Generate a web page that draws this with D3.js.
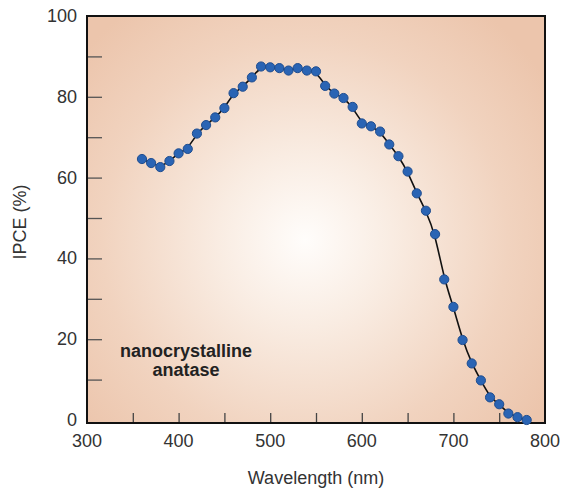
<!DOCTYPE html>
<html>
<head>
<meta charset="utf-8">
<script src="https://cdn.jsdelivr.net/npm/d3@7"></script>
<style>
  body { margin: 0; background: #fff; }
  svg { display: block; font-family: "Liberation Sans", Arial, sans-serif; }
</style>
</head>
<body>
<div id="chart"></div>
<script>
// measured points
const wavelength = [360, 370, 380, 390, 400, 410, 420, 430, 440, 450, 460, 470, 480, 490,
  500, 510, 520, 530, 540, 550, 560, 570, 580, 590, 600, 610, 620, 630, 640, 650,
  660, 670, 680, 690, 700, 710, 720, 730, 740, 750, 760, 770, 780];
const ipce = [64.6, 63.6, 62.6, 64.1, 66.0, 67.1, 70.9, 73.0, 74.9, 77.2, 80.9, 82.5, 84.8, 87.5,
  87.3, 87.1, 86.5, 87.1, 86.5, 86.3, 82.7, 80.8, 79.7, 77.5, 73.4, 72.7, 71.4, 68.2, 65.3, 61.5,
  56.1, 51.8, 46.0, 34.8, 28.0, 19.8, 14.0, 9.8, 5.6, 3.9, 1.6, 0.7, 0.0];

const xTickLabels = [300, 400, 500, 600, 700, 800];
const xTicksAll = [350, 400, 450, 500, 550, 600, 650, 700, 750];
const yTickLabels = [0, 20, 40, 60, 80, 100];
const yTicksAll = [10, 20, 30, 40, 50, 60, 70, 80, 90];

const W = 564, H = 488;
const mLeft = 87, mRight = 545, mTop = 16, mBottom = 420;

const svg = d3.select("#chart").append("svg").attr("width", W).attr("height", H);

const x = d3.scaleLinear().domain([300, 800]).range([mLeft, mRight]);
const y = d3.scaleLinear().domain([0, 100]).range([mBottom, mTop]);

// background glow
const defs = svg.append("defs");
const grad = defs.append("radialGradient").attr("id", "glow")
  .attr("gradientUnits", "userSpaceOnUse")
  .attr("cx", 305).attr("cy", 240).attr("r", 290);
grad.append("stop").attr("offset", "0%").attr("stop-color", "#fffdfb");
grad.append("stop").attr("offset", "30%").attr("stop-color", "#f9ece2");
grad.append("stop").attr("offset", "70%").attr("stop-color", "#f1d3bf");
grad.append("stop").attr("offset", "100%").attr("stop-color", "#ecc5ac");

svg.append("rect").attr("x", mLeft).attr("y", mTop)
  .attr("width", mRight - mLeft).attr("height", mBottom + 3 - mTop)
  .attr("fill", "url(#glow)");

// inner ticks
const xAxis = d3.axisTop(x).tickValues(xTicksAll).tickSize(10).tickFormat("");
svg.append("g").attr("transform", `translate(0,${mBottom + 3})`).call(xAxis)
  .call(g => g.select(".domain").remove())
  .call(g => g.selectAll("line").attr("stroke", "#444").attr("stroke-width", 1.3));

const yAxis = d3.axisRight(y).tickValues(yTicksAll).tickSize(15).tickFormat("");
svg.append("g").attr("transform", `translate(${mLeft},0)`).call(yAxis)
  .call(g => g.select(".domain").remove())
  .call(g => g.selectAll("line").attr("stroke", "#555").attr("stroke-width", 1.3));

// frame
svg.append("rect").attr("x", mLeft).attr("y", mTop)
  .attr("width", mRight - mLeft).attr("height", mBottom + 3 - mTop)
  .attr("fill", "none").attr("stroke", "#111").attr("stroke-width", 2);

// tick labels
svg.append("g").selectAll("text").data(xTickLabels).join("text")
  .attr("x", d => x(d)).attr("y", 447)
  .attr("text-anchor", "middle").attr("font-size", 18).attr("fill", "#333")
  .text(d => d);

svg.append("g").selectAll("text").data(yTickLabels).join("text")
  .attr("x", 77).attr("y", d => y(d) + 6)
  .attr("text-anchor", "end").attr("font-size", 18).attr("fill", "#333")
  .text(d => d);

// axis titles
svg.append("text").attr("x", 316).attr("y", 484)
  .attr("text-anchor", "middle").attr("font-size", 18).attr("fill", "#333")
  .text("Wavelength (nm)");

svg.append("text").attr("transform", "translate(26,222) rotate(-90)")
  .attr("text-anchor", "middle").attr("font-size", 18).attr("fill", "#333")
  .text("IPCE (%)");

// fitted line
const pts = wavelength.map((w, i) => [w, ipce[i]]);
const line = d3.line().x(d => x(d[0])).y(d => y(d[1])).curve(d3.curveBasis);
svg.append("path").datum(pts).attr("d", line)
  .attr("fill", "none").attr("stroke", "#111").attr("stroke-width", 1.6);

// points
svg.append("g").selectAll("circle").data(pts).join("circle")
  .attr("cx", d => x(d[0])).attr("cy", d => y(d[1])).attr("r", 4.6)
  .attr("fill", "#2a64b4").attr("stroke", "#1f4d8f").attr("stroke-width", 1);

// label
const lab = svg.append("text").attr("text-anchor", "middle")
  .attr("font-size", 18).attr("font-weight", "bold").attr("fill", "#222");
lab.append("tspan").attr("x", 186).attr("y", 357).text("nanocrystalline");
lab.append("tspan").attr("x", 186).attr("y", 376).text("anatase");
</script>
</body>
</html>
